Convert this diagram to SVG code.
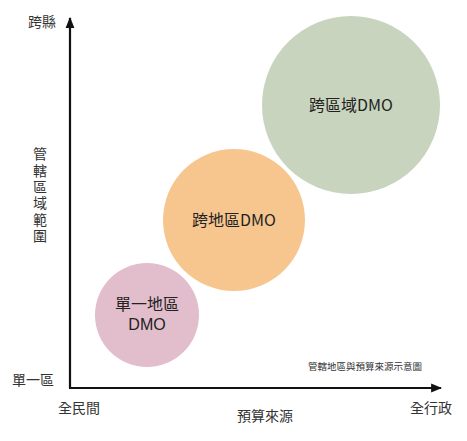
<svg xmlns="http://www.w3.org/2000/svg" width="467" height="441" viewBox="0 0 467 441">
<style>
.t{font-family:"Noto Sans CJK TC","Noto Sans CJK SC",sans-serif;fill:#333;}
.lab{font-size:14px;}
.in{font-size:16px;fill:#222;text-anchor:middle;}
.lat{font-family:"Liberation Sans",Arial,sans-serif;}
.ax{stroke:#111;stroke-width:2.2;fill:none;}
</style>
<defs>
<marker id="ah" viewBox="0 0 10 10" refX="9" refY="5" markerWidth="5" markerHeight="5" orient="auto" markerUnits="strokeWidth">
<path d="M0,1 L10,5 L0,9 z" fill="#111"/>
</marker>
</defs>
<rect width="467" height="441" fill="#fff"/>
<g id="connectors">
<path class="ax" d="M70,388 L70,18" marker-end="url(#ah)"/>
<path class="ax" d="M69,388 L441,388" marker-end="url(#ah)"/>
</g>
<g id="node-cross-region">
<circle cx="351" cy="105" r="89" fill="#c8d4be"/>
<text class="t in" x="351" y="111">跨區域DMO</text>
</g>
<g id="node-multi-area">
<circle cx="234" cy="220" r="71" fill="#f7c68f"/>
<text class="t in" x="234" y="226">跨地區DMO</text>
</g>
<g id="node-single-area">
<circle cx="147" cy="315" r="52" fill="#e2bdcb"/>
<text class="t in" x="147" y="310">單一地區</text>
<text class="t in lat" x="147" y="330">DMO</text>
</g>
<g id="labels">
<text class="t lab" x="28" y="27">跨縣</text>
<text class="t lab" x="40" y="147" style="writing-mode:vertical-rl;letter-spacing:2.3px">管轄區域範圍</text>
<text class="t lab" x="12" y="385">單一區</text>
<text class="t lab" x="79" y="413" text-anchor="middle">全民間</text>
<text class="t lab" x="265" y="421" text-anchor="middle">預算來源</text>
<text class="t lab" x="431" y="413" text-anchor="middle">全行政</text>
<text class="t" x="365" y="370" font-size="9.5" text-anchor="middle">管轄地區與預算來源示意圖</text>
</g>
</svg>
